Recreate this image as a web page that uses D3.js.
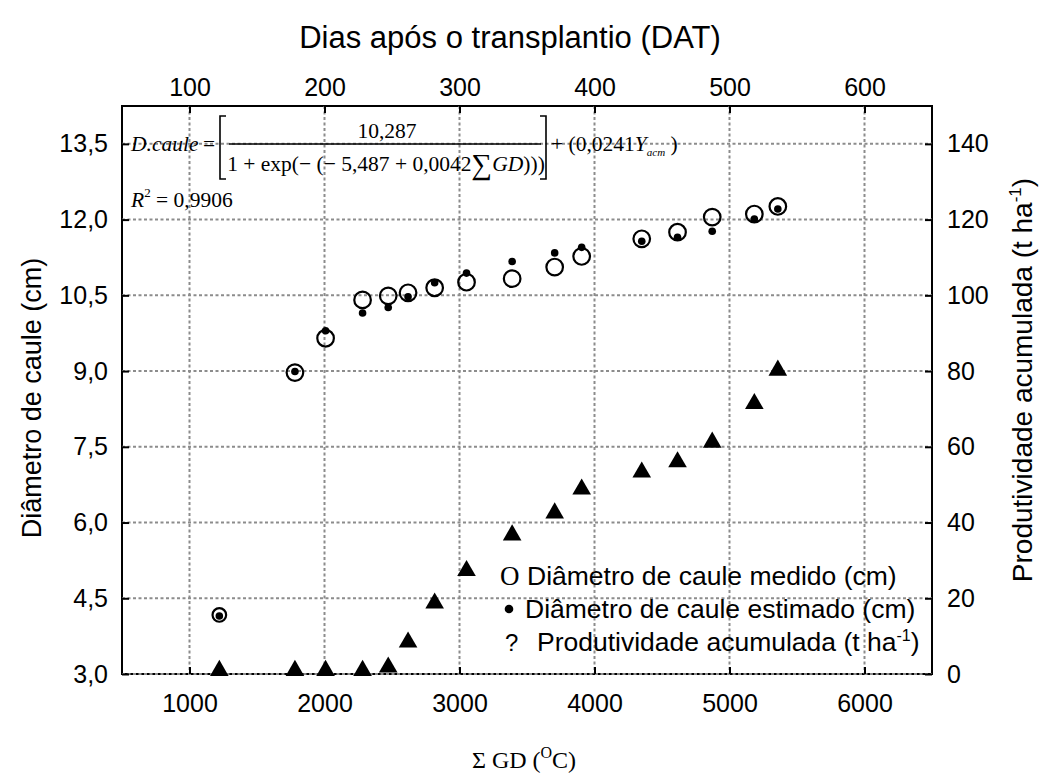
<!DOCTYPE html>
<html>
<head>
<meta charset="utf-8">
<script src="https://d3js.org/d3.v7.min.js"></script>
<style>
    body { margin: 0; background: #ffffff; }
    svg text { font-family: "Liberation Sans", Arial, sans-serif; fill: #000; }
    .serif { font-family: "Liberation Serif", "Times New Roman", serif; }
</style>
</head>
<body>
<svg id="chart" width="1045" height="780"></svg>
<script>
/** Data **/
var gdValues      = [1221, 1781, 2008, 2282, 2472, 2619, 2816, 3052, 3390, 3705, 3905, 4350, 4615, 4872, 5184, 5358];
var diamMeasured  = [4.17, 8.97, 9.65, 10.41, 10.49, 10.55, 10.65, 10.76, 10.83, 11.06, 11.27, 11.62, 11.75, 12.05, 12.11, 12.26];
var diamEstimated = [4.15, 8.99, 9.80, 10.15, 10.26, 10.47, 10.75, 10.94, 11.17, 11.34, 11.45, 11.57, 11.65, 11.77, 12.01, 12.21];
var prodAcum      = [0.9, 0.9, 0.9, 0.9, 1.8, 8.4, 18.7, 27.3, 36.7, 42.5, 48.8, 53.3, 56.0, 61.2, 71.4, 80.2];

var leftTicks   = [3.0, 4.5, 6.0, 7.5, 9.0, 10.5, 12.0, 13.5];
var rightTicks  = [0, 20, 40, 60, 80, 100, 120, 140];
var bottomTicks = [1000, 2000, 3000, 4000, 5000, 6000];
var topTicks    = [100, 200, 300, 400, 500, 600];

var legendLabels = ["Diâmetro de caule medido (cm)",
                    "Diâmetro de caule estimado (cm)",
                    "Produtividade acumulada (t ha"];

/**
 * Draw the whole chart.
 */
function drawChart()
{
    var svg = d3.select("#chart");

    var left = 122, right = 932, top = 106, bottom = 674;
    var tickLen = 7;
    var gridColor = "#8c8c8c";

    var ptBr = d3.formatLocale({decimal: ",", thousands: ".", grouping: [3], currency: ["", ""]});
    var fmtLeft = ptBr.format(".1f");

    var xScale = d3.scaleLinear().domain([500, 6500]).range([left, right]);
    var xTop   = d3.scaleLinear().domain([50, 650]).range([left, right]);
    var yLeft  = d3.scaleLinear().domain([3, 14.25]).range([bottom, top]);
    var yRight = d3.scaleLinear().domain([0, 150]).range([bottom, top]);

    // Frame
    svg.append("rect")
        .attr("x", left).attr("y", top)
        .attr("width", right - left).attr("height", bottom - top)
        .attr("fill", "none").attr("stroke", "#000").attr("stroke-width", 2);

    // Dotted grid
    var grid = svg.append("g").attr("stroke", gridColor)
        .attr("stroke-width", 2).attr("stroke-dasharray", "3,2.5");

    grid.selectAll(".hgrid").data(leftTicks).enter().append("line")
        .attr("x1", left).attr("x2", right)
        .attr("y1", function(d) { return yLeft(d); })
        .attr("y2", function(d) { return yLeft(d); });

    grid.selectAll(".vgrid").data(bottomTicks).enter().append("line")
        .attr("y1", top).attr("y2", bottom)
        .attr("x1", function(d) { return xScale(d); })
        .attr("x2", function(d) { return xScale(d); });

    // Axes (inner ticks)
    var axisL = d3.axisLeft(yLeft).tickValues(leftTicks).tickFormat(fmtLeft)
        .tickSize(-tickLen).tickSizeOuter(0).tickPadding(14);
    var axisR = d3.axisRight(yRight).tickValues(rightTicks).tickFormat(d3.format("d"))
        .tickSize(-tickLen).tickSizeOuter(0).tickPadding(15);
    var axisB = d3.axisBottom(xScale).tickValues(bottomTicks).tickFormat(d3.format("d"))
        .tickSize(-tickLen).tickSizeOuter(0).tickPadding(20);
    var axisT = d3.axisTop(xTop).tickValues(topTicks).tickFormat(d3.format("d"))
        .tickSize(-tickLen).tickSizeOuter(0).tickPadding(10);

    var gL = svg.append("g").attr("transform", "translate(" + left + ",0)").call(axisL);
    var gR = svg.append("g").attr("transform", "translate(" + right + ",0)").call(axisR);
    var gB = svg.append("g").attr("transform", "translate(0," + bottom + ")").call(axisB);
    var gT = svg.append("g").attr("transform", "translate(0," + top + ")").call(axisT);

    [gL, gR, gB, gT].forEach(function(g) {
        g.select(".domain").remove();
        g.selectAll(".tick line").attr("stroke", "#000").attr("stroke-width", 2);
        g.selectAll(".tick text")
            .attr("font-size", 25)
            .attr("font-family", "Liberation Sans, Arial, sans-serif")
            .attr("fill", "#000");
    });

    // Axis titles
    svg.append("text")
        .attr("x", 510).attr("y", 48)
        .attr("text-anchor", "middle").attr("font-size", 31)
        .text("Dias após o transplantio (DAT)");

    svg.append("text")
        .attr("transform", "translate(41,398) rotate(-90)")
        .attr("text-anchor", "middle").attr("font-size", 27)
        .text("Diâmetro de caule (cm)");

    var rTitle = svg.append("text")
        .attr("transform", "translate(1032,380) rotate(-90)")
        .attr("text-anchor", "middle").attr("font-size", 28);
    rTitle.append("tspan").text("Produtividade acumulada (t ha");
    rTitle.append("tspan").attr("font-size", 17).attr("dy", -11).text("-1");
    rTitle.append("tspan").attr("dy", 11).text(")");

    var bTitle = svg.append("text").attr("class", "serif")
        .attr("x", 524).attr("y", 768)
        .attr("text-anchor", "middle").attr("font-size", 24);
    bTitle.append("tspan").text("Σ GD (");
    bTitle.append("tspan").attr("font-size", 16).attr("dy", -10).text("O");
    bTitle.append("tspan").attr("dy", 10).text("C)");

    // Markers: triangles (right axis), open circles and dots (left axis)
    var triangle = d3.symbol().type(d3.symbolTriangle).size(150);

    svg.append("g").selectAll("path").data(prodAcum).enter().append("path")
        .attr("d", triangle)
        .attr("transform", function(d, i) {
            return "translate(" + xScale(gdValues[i]) + "," + yRight(d) + ")";
        })
        .attr("fill", "#000");

    svg.append("g").selectAll("circle").data(diamMeasured).enter().append("circle")
        .attr("cx", function(d, i) { return xScale(gdValues[i]); })
        .attr("cy", function(d) { return yLeft(d); })
        .attr("r", function(d, i) { return i == 0 ? 6.8 : 8.3; })
        .attr("fill", "none").attr("stroke", "#000").attr("stroke-width", 2.2);

    svg.append("g").selectAll("circle").data(diamEstimated).enter().append("circle")
        .attr("cx", function(d, i) { return xScale(gdValues[i]); })
        .attr("cy", function(d) { return yLeft(d); })
        .attr("r", 3.8)
        .attr("fill", "#000");

    drawEquation(svg);
    drawLegend(svg);
}

/**
 * Regression equation and R² in the top-left corner.
 */
function drawEquation(svg)
{
    var eq = svg.append("g").attr("class", "serif").attr("font-size", 21.5);

    eq.append("text").attr("class", "serif").attr("x", 131).attr("y", 151)
        .attr("font-style", "italic").text("D.caule");
    eq.append("text").attr("class", "serif").attr("x", 203).attr("y", 151).text("=");

    // Square brackets and fraction bar
    eq.append("path").attr("d", "M226,116H220V179H226")
        .attr("fill", "none").attr("stroke", "#000").attr("stroke-width", 1.6);
    eq.append("path").attr("d", "M540,116H546V179H540")
        .attr("fill", "none").attr("stroke", "#000").attr("stroke-width", 1.6);
    eq.append("line").attr("x1", 229).attr("x2", 541).attr("y1", 144).attr("y2", 144)
        .attr("stroke", "#000").attr("stroke-width", 1.5);

    eq.append("text").attr("class", "serif").attr("x", 387).attr("y", 138)
        .attr("text-anchor", "middle").text("10,287");

    var den = eq.append("text").attr("class", "serif").attr("x", 386).attr("y", 171)
        .attr("text-anchor", "middle");
    den.append("tspan").text("1 + exp(− (− 5,487 + 0,0042");
    den.append("tspan").attr("font-size", 29).attr("dy", 3).text("∑");
    den.append("tspan").attr("font-style", "italic").attr("dy", -3).text("GD");
    den.append("tspan").text(")))");

    var tail = eq.append("text").attr("class", "serif").attr("x", 551).attr("y", 151);
    tail.append("tspan").text("+ (0,0241");
    tail.append("tspan").attr("font-style", "italic").text("Y");
    tail.append("tspan").attr("font-style", "italic").attr("font-size", 11).attr("dy", 5).text("acm");
    tail.append("tspan").attr("dy", -5).text(" )");

    var r2 = eq.append("text").attr("class", "serif").attr("x", 131).attr("y", 207);
    r2.append("tspan").attr("font-style", "italic").text("R");
    r2.append("tspan").attr("font-size", 13).attr("dy", -10).text("2");
    r2.append("tspan").attr("dy", 10).text(" = 0,9906");
}

/**
 * Legend inside the plot, lower right.
 */
function drawLegend(svg)
{
    var lg = svg.append("g").attr("font-size", 26.5);
    var baselines = [585, 618, 651];

    lg.append("text").attr("x", 500).attr("y", baselines[0])
        .style("font-family", "'Liberation Serif', 'Times New Roman', serif")
        .style("font-size", "27px").text("O");
    lg.append("text").attr("x", 527).attr("y", baselines[0]).text(legendLabels[0]);

    lg.append("circle").attr("cx", 509).attr("cy", baselines[1] - 9).attr("r", 4.3).attr("fill", "#000");
    lg.append("text").attr("x", 525).attr("y", baselines[1]).text(legendLabels[1]);

    lg.append("text").attr("x", 505).attr("y", baselines[2]).attr("font-size", 24).text("?");
    var t3 = lg.append("text").attr("x", 537).attr("y", baselines[2]);
    t3.append("tspan").text(legendLabels[2]);
    t3.append("tspan").attr("font-size", 16).attr("dy", -10).text("-1");
    t3.append("tspan").attr("dy", 10).text(")");
}

drawChart();
</script>
</body>
</html>
